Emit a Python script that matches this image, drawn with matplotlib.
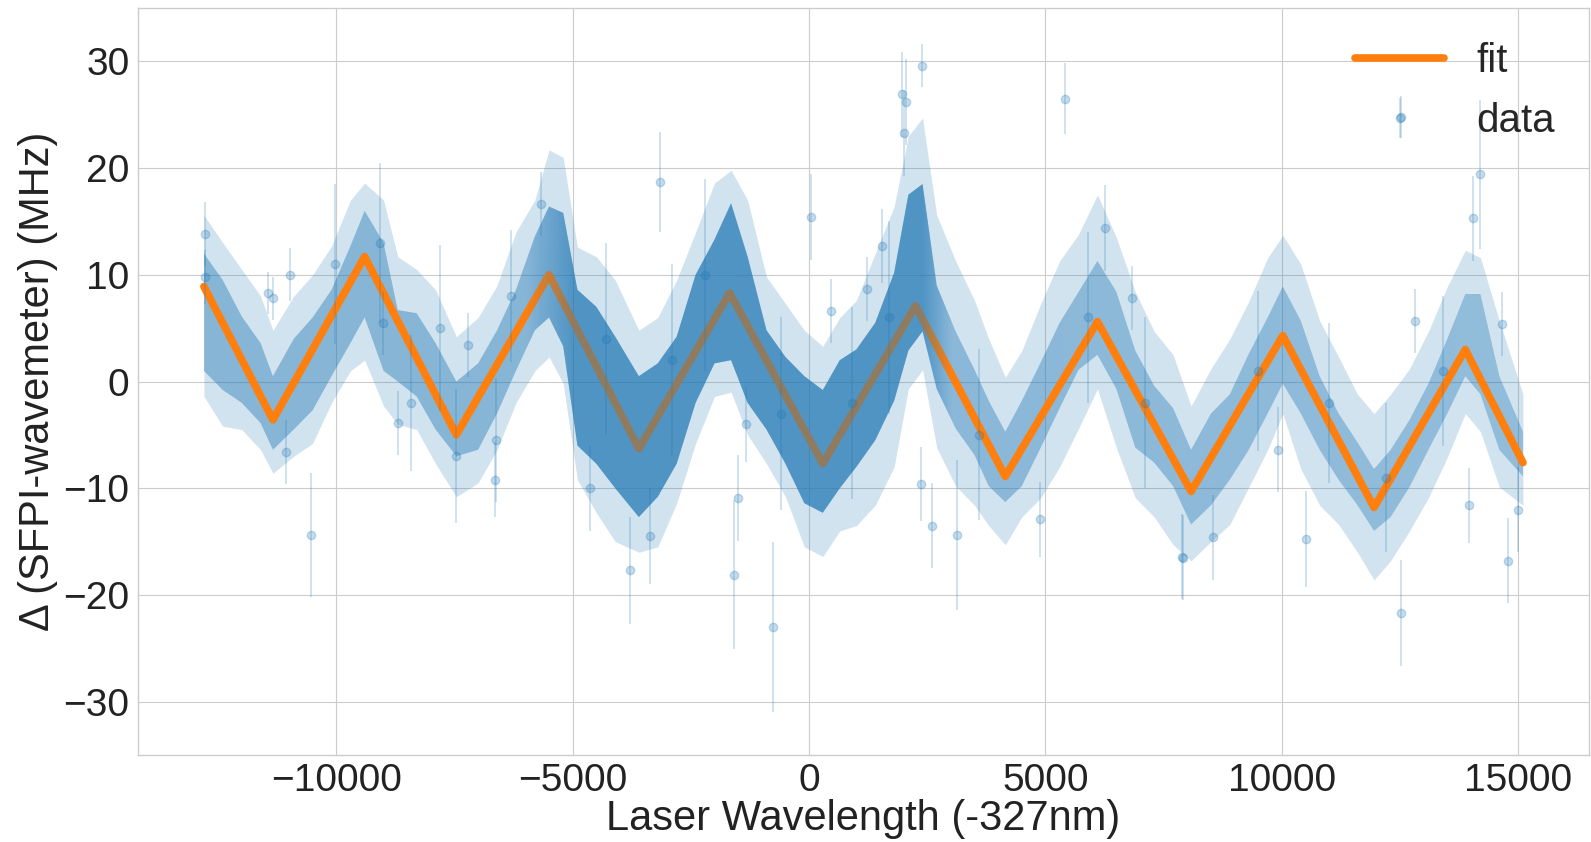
import numpy as np
import matplotlib
matplotlib.use("Agg")
import matplotlib.pyplot as plt
from matplotlib.colors import to_rgb

# fitted piecewise-linear curve (vertices)
fit_x = [-12800, -11340, -9400, -7460, -5500, -3600, -1680, 290, 2250, 4150,
         6100, 8080, 10020, 11950, 13880, 15100]
fit_y = [8.9, -3.6, 11.7, -5.0, 10.0, -6.3, 8.3, -7.7, 7.1, -8.9,
         5.6, -10.3, 4.3, -11.8, 3.0, -7.6]

# envelope of the data cloud
band_x = [-12800, -12400, -12000, -11600, -11340, -10900, -10500, -10100, -9700, -9400,
          -9000, -8700, -8300, -7900, -7460, -7000, -6600, -6200, -5800, -5500,
          -5200, -4900, -4500, -4100, -3600, -3200, -2800, -2400, -2000, -1650,
          -1300, -900, -500, -100, 290, 650, 1000, 1400, 1800, 2100,
          2400, 2700, 3100, 3500, 3800, 4150, 4500, 4900, 5300, 5700,
          6100, 6500, 6900, 7300, 7700, 8080, 8500, 8900, 9300, 9700,
          10020, 10400, 10800, 11200, 11600, 11950, 12300, 12700, 13100, 13500,
          13880, 14200, 14600, 15100]
core_hi = [12.0, 9.5, 6.1, 3.6, 0.5, 4.0, 6.0, 8.6, 12.7, 16.0,
           13.0, 6.7, 6.4, 3.6, 0.0, 1.7, 4.8, 8.6, 13.6, 16.4,
           15.8, 8.6, 7.0, 4.2, 0.5, 1.7, 4.2, 10.0, 13.3, 16.7,
           11.7, 4.8, 2.3, 0.5, -0.8, 2.0, 3.0, 5.5, 10.2, 17.5,
           18.5, 9.0, 4.7, 1.1, -1.8, -4.7, -1.8, 1.8, 5.5, 8.4,
           11.3, 8.4, 2.9, -0.4, -2.5, -6.4, -3.0, -1.2, 2.6, 6.0,
           8.9, 5.7, 0.5, -3.0, -5.7, -8.2, -6.4, -3.6, -0.2, 4.0,
           8.2, 8.2, 0.5, -4.7]
core_lo = [1.0, -0.8, -2.0, -3.9, -6.4, -4.5, -2.7, 0.5, 3.6, 6.0,
           1.0, 0.0, -1.4, -4.5, -7.0, -6.4, -3.0, 1.0, 4.8, 6.0,
           3.3, -6.0, -7.7, -10.0, -12.7, -10.8, -7.7, -2.0, 1.7, 2.0,
           -2.0, -4.5, -7.7, -11.4, -12.3, -10.0, -8.0, -5.5, -1.8, 2.9,
           4.7, -0.7, -4.4, -6.9, -9.8, -11.3, -9.8, -6.2, -2.5, 1.1,
           2.5, -0.7, -6.2, -7.6, -9.8, -13.4, -11.6, -9.2, -6.4, -3.0,
           -0.2, -3.0, -6.4, -9.2, -11.6, -14.0, -12.7, -9.9, -6.4, -3.0,
           0.5, -1.2, -6.4, -8.9]
err_hi = [15.6, 13.0, 10.5, 8.0, 4.8, 8.0, 10.0, 12.7, 17.0, 18.6,
          17.0, 11.7, 10.5, 8.6, 4.2, 6.0, 9.0, 14.0, 17.0, 21.7,
          21.0, 12.6, 11.7, 9.5, 4.8, 6.0, 9.5, 14.0, 18.6, 19.8,
          17.0, 9.8, 7.3, 4.8, 3.3, 6.0, 7.6, 12.0, 16.4, 23.0,
          24.7, 15.6, 11.3, 7.6, 4.0, 0.4, 2.9, 7.3, 11.3, 13.8,
          17.5, 13.5, 8.4, 4.7, 2.5, -2.3, 1.2, 4.0, 7.5, 11.6,
          13.7, 11.0, 5.7, 2.3, -1.2, -3.0, -1.2, 1.2, 4.7, 8.9,
          12.3, 11.6, 5.7, -1.2]
err_lo = [-1.4, -4.2, -4.5, -6.4, -8.6, -7.0, -5.8, -2.0, 1.0, 2.0,
          -2.3, -4.0, -4.5, -7.7, -10.8, -9.5, -6.4, -2.0, 1.0, 2.3,
          -0.2, -9.2, -12.3, -15.0, -16.0, -15.5, -11.4, -5.8, -1.4, -1.0,
          -5.0, -7.7, -10.8, -15.5, -16.4, -14.0, -13.5, -11.6, -8.0, -0.7,
          1.1, -6.2, -9.8, -11.6, -13.5, -15.3, -12.7, -10.9, -8.0, -4.4,
          -0.7, -6.2, -10.9, -12.7, -15.3, -16.8, -15.0, -13.4, -9.9, -6.4,
          -3.0, -8.2, -11.6, -13.4, -16.0, -18.6, -16.8, -14.0, -10.9, -7.1,
          -3.0, -4.7, -9.9, -11.6]

# isolated points and long error bars sticking out of the cloud
pts_x = [-12786, -12786, -11446, -11340, -10987, -11058, -10529, -9013, -8700, -7214,
         -6650, -5680, -4628, -3366, -3156, -3787, -1508, -1332, -1578, -771,
         35, 456, 1227, 1544, 1968, 2003, 2052, 2391, 2377, 2602,
         3131, 4894, 5423, 6269, 6834, 7891, 7917, 8548, 9916, 10512,
         12510, 12510, 12826, 13948, 14053, 14193, 14650, 14790, 15000,
         -10035, -9083, -7814, -6297, -8413, -7461, -6615, -4300, -2900, -2200,
         -600, 900, 1700, 3600, 5900, 7100, 9500, 11000, 12200, 13400]
pts_y = [13.8, 9.8, 8.3, 7.8, 10.0, -6.6, -14.4, 5.5, -3.9, 3.4,
         -9.2, 16.6, -10.0, -14.5, 18.7, -17.7, -10.9, -4.0, -18.1, -23.0,
         15.4, 6.6, 8.7, 12.7, 26.9, 23.3, 26.2, 29.6, -9.6, -13.5,
         -14.4, -12.9, 26.5, 14.4, 7.8, -16.4, -16.5, -14.6, -6.4, -14.8,
         24.8, -21.7, 5.7, -11.6, 15.3, 19.4, 5.4, -16.8, -12.0,
         11.0, 13.0, 5.0, 8.0, -2.0, -7.0, -5.5, 4.0, 2.0, 10.0,
         -3.0, -2.0, 6.0, -5.0, 6.0, -2.0, 1.0, -2.0, -9.0, 1.0]
pts_err = [3.0, 2.5, 2.0, 2.0, 2.5, 3.0, 5.8, 3.0, 3.0, 3.0,
           3.5, 3.0, 4.0, 4.5, 4.7, 5.0, 4.0, 3.5, 7.0, 8.0,
           4.0, 3.0, 3.0, 3.5, 4.0, 4.0, 4.0, 2.0, 3.5, 4.0,
           7.0, 3.5, 3.3, 4.0, 3.0, 4.0, 4.0, 4.0, 4.0, 4.5,
           2.0, 5.0, 3.0, 3.5, 4.0, 7.0, 3.0, 4.0, 4.0,
           7.5, 7.5, 7.8, 6.2, 6.4, 6.3, 5.8, 9.0, 9.0, 9.0,
           9.0, 9.0, 9.0, 8.0, 8.0, 8.0, 7.5, 7.5, 7.0, 7.0]

# how densely the cloud is packed along x (for shading only)
dens_x = [-12800, -6000, -5000, 2400, 3000, 15100]
dens_lo = [0.42, 0.42, 0.45, 0.45, 0.40, 0.36]
dens_hi = [0.0, 0.0, 0.5, 0.5, 0.0, 0.0]

plt.style.use("seaborn-v0_8-whitegrid")
plt.rcParams['font.family'] = ['Liberation Sans', 'DejaVu Sans']

fig = plt.figure(figsize=(15.91, 8.42), dpi=100)
ax = fig.add_axes([0.0867, 0.1033, 0.9120, 0.8872])

blue = "#1f77b4"
ax.fill_between(band_x, err_lo, err_hi, color=blue, alpha=0.2, lw=0, zorder=1)
core = ax.fill_between(band_x, core_lo, core_hi, facecolor="none", lw=0, zorder=1)
clip = core.get_paths()[0]

xs = np.linspace(band_x[0], band_x[-1], 800)
for dens, z in [(dens_lo, 1.5), (dens_hi, 3)]:
    img = np.zeros((1, xs.size, 4))
    img[..., :3] = to_rgb(blue)
    img[..., 3] = np.interp(xs, dens_x, dens)
    im = ax.imshow(img, extent=[band_x[0], band_x[-1], -35, 35], aspect="auto",
                   interpolation="bilinear", zorder=z)
    im.set_clip_path(clip, transform=ax.transData)

ax.plot(fit_x, fit_y, color="#ff7f0e", lw=5.5, label="fit", zorder=2)
ax.errorbar(pts_x, pts_y, yerr=pts_err, fmt="o", color=blue, alpha=0.25,
            ms=6, elinewidth=1.2, label="data", zorder=4)

ax.set_xlim(-14195, 16495)
ax.set_ylim(-35, 35)
ax.set_yticks([-30, -20, -10, 0, 10, 20, 30])
ax.set_xticks([-10000, -5000, 0, 5000, 10000, 15000])
ax.tick_params(labelsize=28, pad=6, colors="#222222")
ax.set_xlabel("Laser Wavelength (-327nm)", fontsize=30, labelpad=0, color="#222222")
ax.set_ylabel("Δ (SFPI-wavemeter) (MHz)", fontsize=30, labelpad=4, color="#222222")
ax.legend(loc="upper right", fontsize=29, frameon=False, handlelength=2.2,
          borderaxespad=0.45, labelspacing=0.55)

fig.savefig("out.png", dpi=100)
